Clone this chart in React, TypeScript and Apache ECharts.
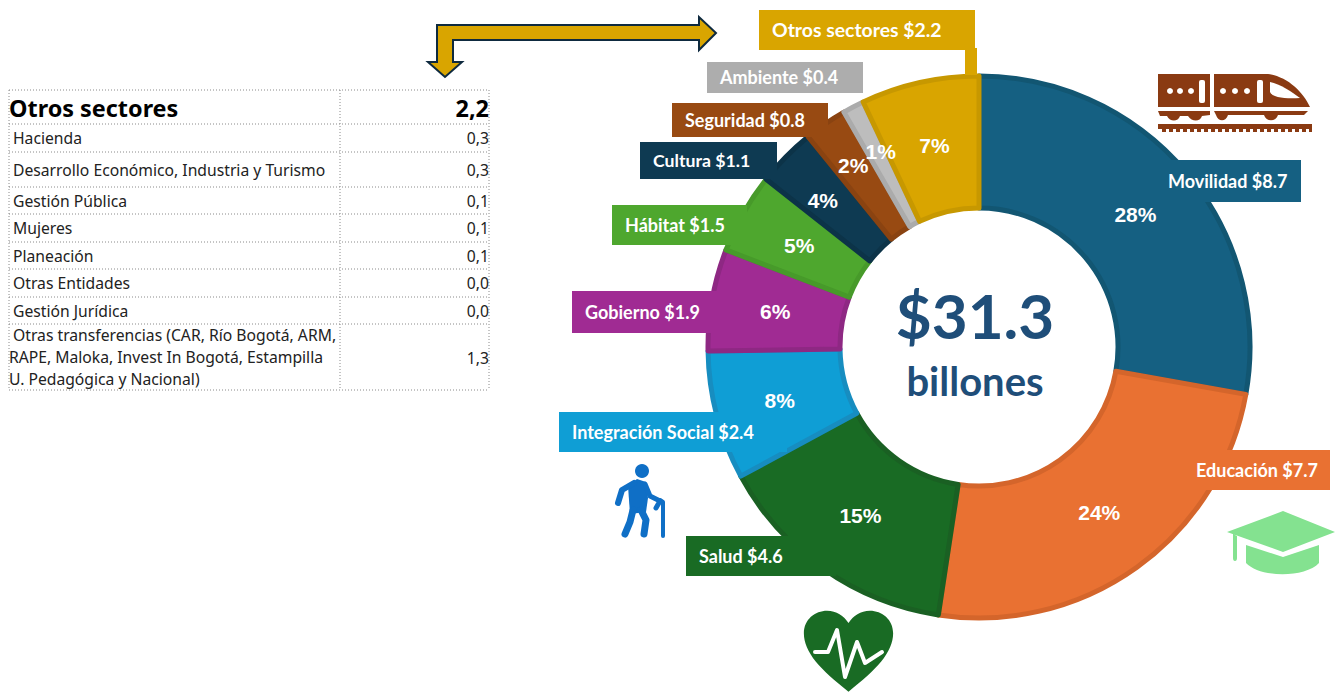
import React, { useEffect, useRef } from "react";
import * as echarts from "echarts";

const categories = ["Movilidad", "Educación", "Salud", "Integración Social", "Gobierno", "Hábitat", "Cultura", "Seguridad", "Ambiente", "Otros sectores"];
const values = [8.7, 7.7, 4.6, 2.4, 1.9, 1.5, 1.1, 0.8, 0.4, 2.2];
const percents = [28, 24, 15, 8, 6, 5, 4, 2, 1, 7];
const colors = ["#156082", "#E97132", "#196B24", "#0F9ED5", "#A02B93", "#4EA72E", "#0E3A52", "#984A12", "#ADADAD", "#D9A500"];
const sliceColors = ["#156082", "#E97132", "#196B24", "#0F9ED5", "#A02B93", "#4EA72E", "#0E3A52", "#984A12", "#BDBDBD", "#D9A500"];
const edgeColors = ["#125672", "#D4652B", "#1A6023", "#178DC0", "#8E2883", "#479A2A", "#0C3348", "#8A4311", "#ABABAB", "#C79800"];
const totalLabel = "$31.3";
const totalUnit = "billones";

const tableTitle = "Otros sectores";
const tableTotal = "2,2";
const tableRows = ["Hacienda", "Desarrollo Económico, Industria y Turismo", "Gestión Pública", "Mujeres", "Planeación", "Otras Entidades", "Gestión Jurídica"];
const tableValues = ["0,3", "0,3", "0,1", "0,1", "0,1", "0,0", "0,0"];
const tableLastRow = ["Otras transferencias (CAR, Río Bogotá, ARM,", "RAPE, Maloka, Invest In Bogotá, Estampilla", "U. Pedagógica y Nacional)"];
const tableLastValue = "1,3";

// layout: [x, y, width, height] of each callout box, same order as categories
const boxes = [
  [1155, 160, 146, 42], [1145, 450, 185, 40], [686, 536, 150, 40], [559, 412, 228, 40], [572, 291, 155, 42],
  [612, 205, 135, 40], [640, 142, 137, 37], [672, 103, 156, 34], [707, 62, 156, 31], [759, 10, 216, 40],
];
const textLeft = [1168, 1196, 699, 572, 585, 625, 653, 685, 720, 772];
const textSize = [18, 18, 18, 18, 18, 18, 17.7, 18, 18, 19.4];
const labelShift = [[-3, 1], [-1, -4], [1, -2], [2, 1], [1, 1], [1, 1], [-8, -1], [-8, -10], [-2, -11], [1, 1]];
const rowLines = [90, 124, 152, 187, 214, 242, 269, 297, 324, 390];

const HEART = "M50 95C20 70 2 50 2 28C2 12 14 2 27 2C37 2 45 8 50 16C55 8 63 2 73 2C86 2 98 12 98 28C98 50 80 70 50 95Z";
const CAP = "M1283 511L1335 532L1283 552L1227 532ZM1233 534L1237 536V558Q1237 561 1235 561Q1233 561 1233 558ZM1246 545L1283 557L1319 545V563C1305 578 1260 578 1246 563Z";
const TRAIN = "M1158 74H1210V107H1158ZM1214 74H1268C1288 77 1303 92 1310 107H1214ZM1158 111H1210V115L1202 116C1200 122 1192 122 1188 116H1180C1178 122 1170 122 1167 116H1160ZM1214 111H1308L1304 115H1278C1276 122 1266 122 1264 115H1228C1226 122 1218 122 1216 115ZM1158 124H1312V132H1309V129H1306V132H1302V129H1299V132H1295V129H1292V132H1288V129H1285V132H1281V129H1278V132H1274V129H1271V132H1267V129H1264V132H1260V129H1257V132H1253V129H1250V132H1246V129H1243V132H1239V129H1236V132H1232V129H1229V132H1225V129H1222V132H1218V129H1215V132H1211V129H1208V132H1204V129H1201V132H1197V129H1194V132H1190V129H1187V132H1183V129H1180V132H1176V129H1173V132H1169V129H1166V132H1162V129H1158Z";
const NOSE = "M1270 82C1280 84 1292 92 1300 98C1288 99 1272 98 1270 92Z";

echarts.graphic.registerShape("heartIcon", echarts.graphic.extendPath(HEART as any, {}) as any);
echarts.graphic.registerShape("capIcon", echarts.graphic.extendPath(CAP as any, {}) as any);
echarts.graphic.registerShape("trainIcon", echarts.graphic.extendPath(TRAIN as any, {}) as any);
echarts.graphic.registerShape("noseIcon", echarts.graphic.extendPath(NOSE as any, {}) as any);

export default function App() {
  const ref = useRef<HTMLDivElement>(null);
  useEffect(() => {
    const chart = echarts.init(ref.current!, undefined, { renderer: "svg" });
    const g: any[] = [];
    const tFont = "Noto Sans";
    const dash = { stroke: "#8a8a8a", lineWidth: 1, lineDash: [1, 2] };
    rowLines.forEach((y) => g.push({ type: "line", shape: { x1: 9, y1: y, x2: 489, y2: y }, style: dash }));
    [9, 340, 489].forEach((x) => g.push({ type: "line", shape: { x1: x, y1: 90, x2: x, y2: 390 }, style: dash }));
    const txt = (text: string, x: number, y: number, o: any = {}) =>
      g.push({ type: "text", x, y, style: { text, fill: "#222", font: `400 15.7px "${tFont}"`, textVerticalAlign: "middle", ...o } });
    txt(tableTitle, 9, 108, { font: `700 23.4px "${tFont}"`, fill: "#000" });
    txt(tableTotal, 489, 108, { font: `700 23.4px "${tFont}"`, fill: "#000", textAlign: "right" });
    tableRows.forEach((r, i) => {
      const y = (rowLines[i + 1] + rowLines[i + 2]) / 2;
      txt(r, 13, y);
      txt(tableValues[i], 489, y, { textAlign: "right" });
    });
    tableLastRow.forEach((r, i) => txt(r, i === 0 ? 13 : 9, 335 + i * 22));
    txt(tableLastValue, 489, 358, { textAlign: "right" });

    g.push({
      type: "polygon", z: 20,
      shape: { points: [[437, 25], [699, 25], [699, 17], [716, 33], [699, 50], [699, 40], [453, 40], [453, 62], [462, 62], [445, 77], [428, 62], [437, 62]] },
      style: { fill: "#D9A500", stroke: "#0E2A3F", lineWidth: 2 },
    });

    g.push({ type: "rect", z: 20, shape: { x: 965, y: 48, width: 12, height: 27 }, style: { fill: colors[9] } });
    boxes.forEach((b, i) => {
      g.push({ type: "rect", z: 20, shape: { x: b[0], y: b[1], width: b[2], height: b[3] }, style: { fill: colors[i] } });
      g.push({
        type: "text", z: 21, x: textLeft[i], y: b[1] + b[3] / 2 - 0.5,
        style: { text: `${categories[i]} $${values[i]}`, fill: "#fff", font: `700 ${textSize[i]}px "Lato"`, textVerticalAlign: "middle" },
      });
    });

    g.push({ type: "text", z: 21, x: 975, y: 315, style: { text: totalLabel, fill: "#1F4E79", font: '700 62px "Lato"', textAlign: "center", textVerticalAlign: "middle" } });
    g.push({ type: "text", z: 21, x: 975, y: 381, style: { text: totalUnit, fill: "#1F4E79", font: '700 40px "Lato"', textAlign: "center", textVerticalAlign: "middle" } });

    // heart icon
    g.push({ type: "heartIcon", z: 21, x: 802, y: 609, scaleX: 0.93, scaleY: 0.87, style: { fill: "#196B24" } });
    g.push({
      type: "polyline", z: 22,
      shape: { points: [[815, 652], [828, 652], [837, 630], [845, 677], [857, 642], [865, 663], [882, 652]] },
      style: { stroke: "#fff", lineWidth: 4, fill: "none", lineJoin: "round", lineCap: "round" },
    });
    // graduation cap icon
    g.push({ type: "capIcon", z: 21, style: { fill: "#84E290" } });
    // person icon
    const blue = "#0F6FC6";
    const limb = (points: number[][], lineWidth: number) =>
      g.push({ type: "polyline", z: 21, shape: { points }, style: { stroke: blue, lineWidth, fill: "none", lineCap: "round", lineJoin: "round" } });
    g.push({ type: "circle", z: 21, shape: { cx: 642, cy: 471, r: 7 }, style: { fill: blue } });
    g.push({ type: "polygon", z: 21, shape: { points: [[628, 486], [637, 479], [646, 482], [648, 498], [646, 512], [630, 514]] }, style: { fill: blue } });
    limb([[634, 483], [622, 490], [618, 503]], 6);
    limb([[645, 484], [650, 496], [660, 501], [656, 508]], 5);
    limb([[641, 510], [646, 520], [644, 534]], 7);
    limb([[633, 510], [630, 522], [625, 534]], 7);
    limb([[660, 500], [663, 502], [663, 536]], 4);
    // train icon
    const brown = "#8A3A12";
    g.push({ type: "trainIcon", z: 21, style: { fill: brown } });
    g.push({ type: "noseIcon", z: 22, style: { fill: "#fff" } });
    [1170, 1180, 1191, 1223, 1235, 1247].forEach((cx) => g.push({ type: "circle", z: 22, shape: { cx, cy: 91, r: 3 }, style: { fill: "#fff" } }));
    [1199, 1257].forEach((x) => g.push({ type: "rect", z: 22, shape: { x, y: 80, width: 6, height: 23, r: 2 }, style: { fill: "#fff" } }));

    chart.setOption({
      animation: false,
      backgroundColor: "#fff",
      graphic: { elements: g },
      series: [{
        type: "pie",
        z: 5,
        center: [979, 347],
        radius: [139, 271],
        startAngle: 90,
        clockwise: true,
        avoidLabelOverlap: false,
        label: {
          show: true, position: "inside", color: "#fff", fontFamily: "Liberation Sans", fontWeight: 700, fontSize: 21,
          formatter: (p: any) => `${percents[p.dataIndex]}%`,
        },
        labelLine: { show: false },
        emphasis: { disabled: true },
        labelLayout: (p: any) => ({ dx: labelShift[p.dataIndex][0], dy: labelShift[p.dataIndex][1] }),
        data: categories.map((name, i) => ({
          name, value: values[i],
          itemStyle: { color: sliceColors[i], borderColor: edgeColors[i], borderWidth: 5 },
        })),
      }],
    });
    return () => chart.dispose();
  }, []);
  return <div ref={ref} style={{ position: "absolute", left: 0, top: 0, width: 1335, height: 692 }} />;
}
